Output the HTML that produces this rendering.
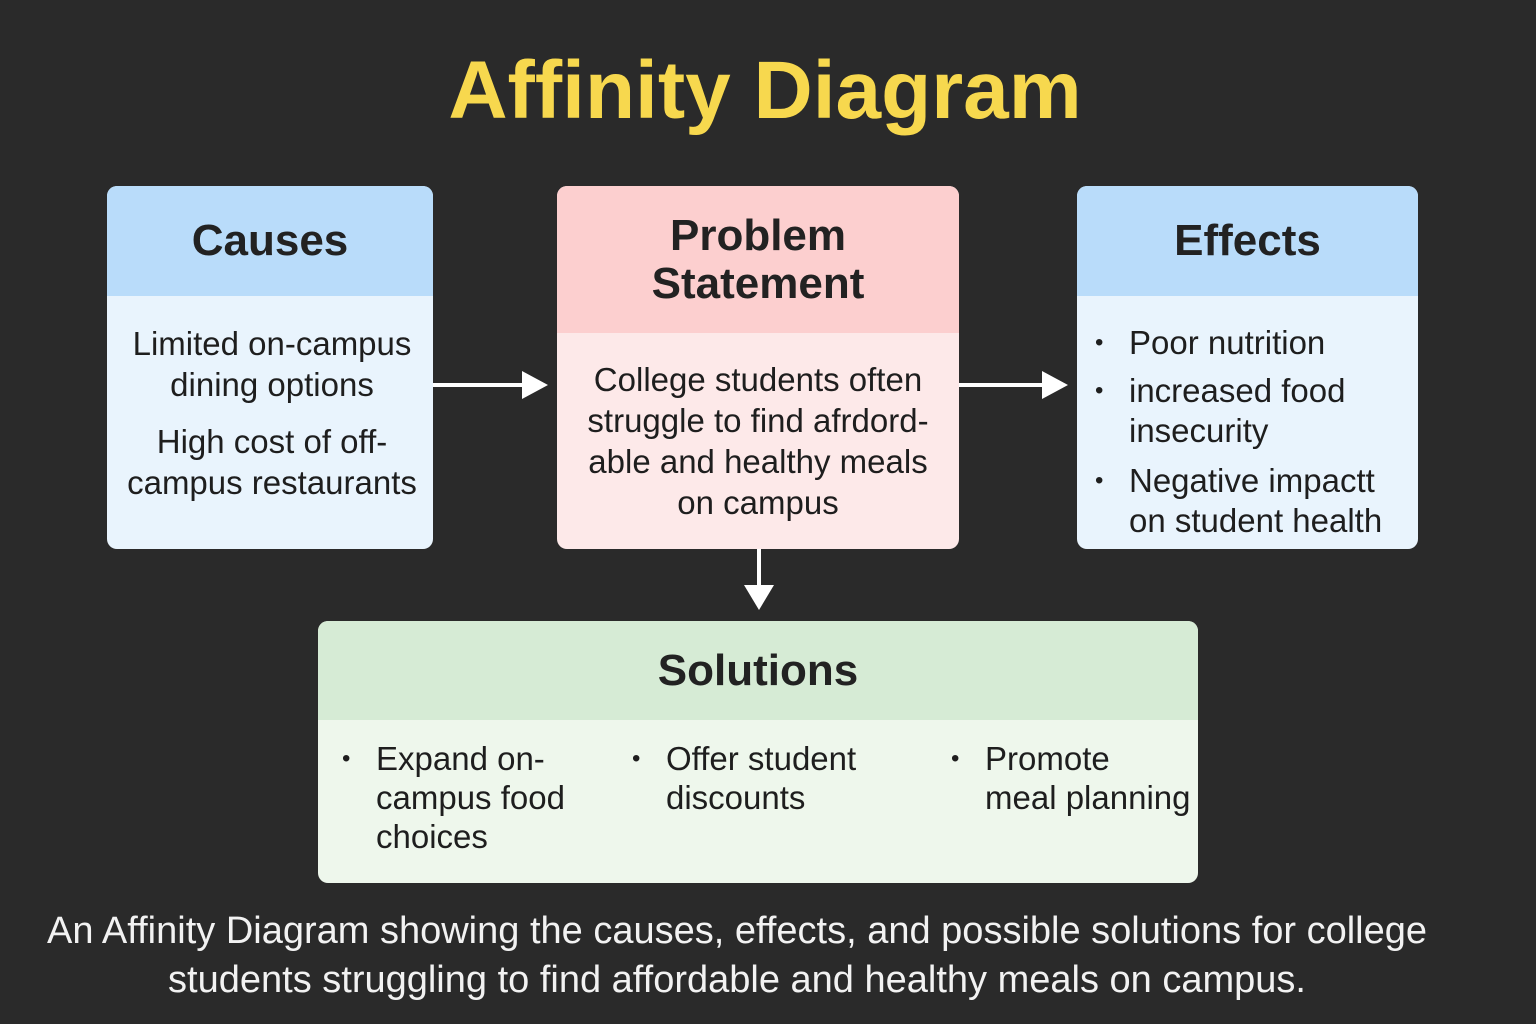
<!DOCTYPE html>
<html><head><meta charset="utf-8"><style>
*{margin:0;padding:0;box-sizing:border-box}
body{width:1536px;height:1024px;background:#2a2a2a;font-family:"Liberation Sans","DejaVu Sans",sans-serif;position:relative;overflow:hidden;color:#1e1e1e}
.abs{position:absolute}
.box{position:absolute;border-radius:10px;overflow:hidden}
.hd{display:flex;align-items:center;justify-content:center;text-align:center;font-weight:bold;font-size:44px;line-height:48px;color:#222}
.bd{font-size:33px;line-height:41px}
ul{list-style:none}
li{position:relative;padding-left:52px}
li:before{content:"•";position:absolute;left:18px;font-size:24px}
</style></head><body>
<div class="abs" style="left:0;width:1530px;top:44px;text-align:center;font-size:82px;font-weight:bold;color:#f7d84e">Affinity Diagram</div>

<div class="box" style="left:107px;top:186px;width:326px;height:363px;background:#e9f4fd">
 <div class="hd" style="height:110px;background:#b9dcfa">Causes</div>
 <div class="bd" style="text-align:center;padding-top:27px;margin-left:-10px;margin-right:-14px">
  <div>Limited on-campus<br>dining options</div>
  <div style="margin-top:16px">High cost of off-<br>campus restaurants</div>
 </div>
</div>

<div class="box" style="left:557px;top:186px;width:402px;height:363px;background:#fde9e9">
 <div class="hd" style="height:147px;background:#fccfcf">Problem<br>Statement</div>
 <div class="bd" style="text-align:center;padding-top:26px;line-height:41px;margin:0 -10px">College students often<br>struggle to find afrdord-<br>able and healthy meals<br>on campus</div>
</div>

<div class="box" style="left:1077px;top:186px;width:341px;height:363px;background:#e9f4fd">
 <div class="hd" style="height:110px;background:#b9dcfa">Effects</div>
 <ul class="bd" style="position:absolute;top:0;line-height:40px;padding-top:137px;white-space:nowrap">
  <li>Poor nutrition</li>
  <li style="margin-top:8px">increased food<br>insecurity</li>
  <li style="margin-top:10px">Negative impactt<br>on student health</li>
 </ul>
</div>

<div class="box" style="left:318px;top:621px;width:880px;height:262px;background:#eef7ec">
 <div class="hd" style="height:99px;background:#d6ebd5">Solutions</div>
 <ul class="bd abs" style="left:6px;top:118px;line-height:39px;white-space:nowrap"><li>Expand on-<br>campus food<br>choices</li></ul>
 <ul class="bd abs" style="left:296px;top:118px;line-height:39px;white-space:nowrap"><li>Offer student<br>discounts</li></ul>
 <ul class="bd abs" style="left:615px;top:118px;line-height:39px;white-space:nowrap"><li>Promote<br>meal planning</li></ul>
</div>

<svg class="abs" style="left:0;top:0" width="1536" height="1024">
 <g fill="#fff" stroke="#fff" stroke-width="4">
  <line x1="433" y1="385" x2="525" y2="385"/><polygon points="522,371 548,385 522,399" stroke="none"/>
  <line x1="959" y1="385" x2="1045" y2="385"/><polygon points="1042,371 1068,385 1042,399" stroke="none"/>
  <line x1="759" y1="549" x2="759" y2="588"/><polygon points="744,585 759,610 774,585" stroke="none"/>
 </g>
</svg>

<div class="abs" style="left:0;width:1474px;top:907px;text-align:center;font-size:38px;line-height:49px;color:#f2f2f2">An Affinity Diagram showing the causes, effects, and possible solutions for college<br>students struggling to find affordable and healthy meals on campus.</div>
</body></html>
